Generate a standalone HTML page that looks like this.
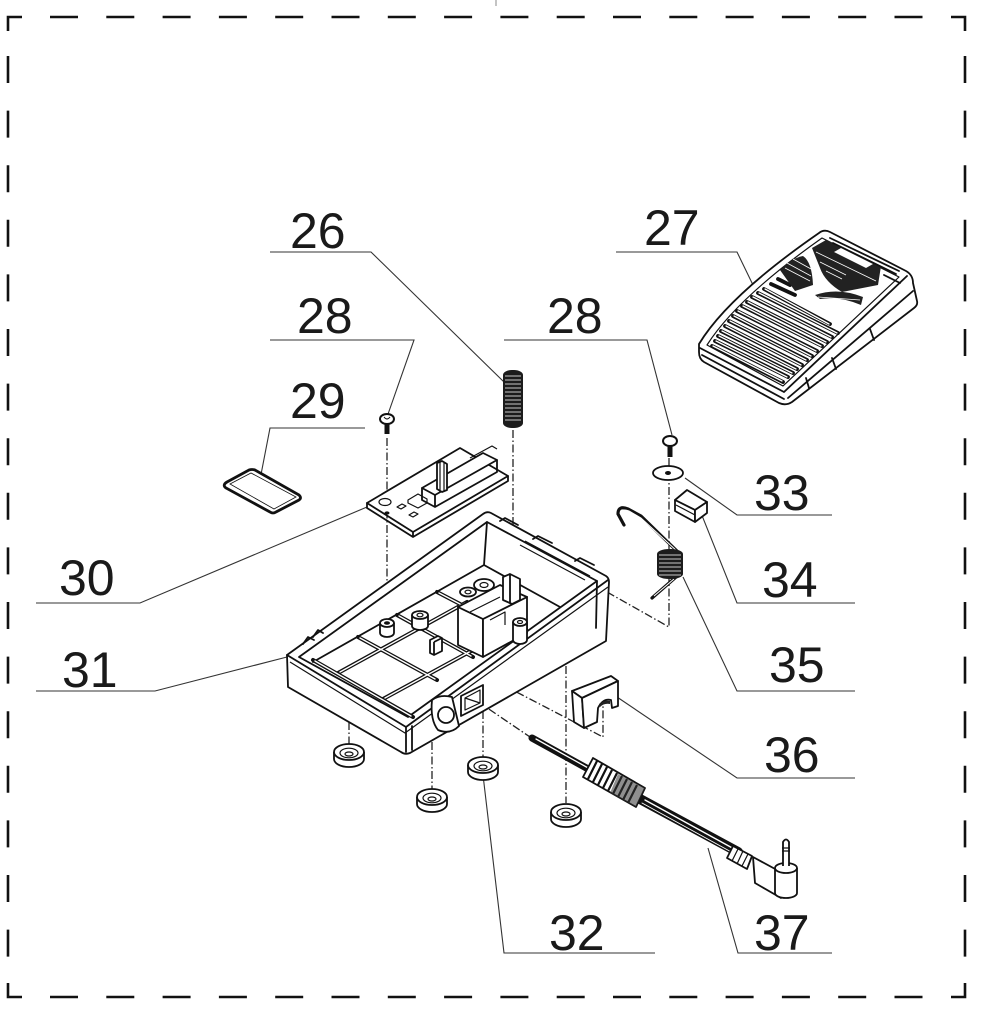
<!DOCTYPE html>
<html><head><meta charset="utf-8">
<style>
html,body{margin:0;padding:0;background:#fff;}
svg{display:block;}
text{font-family:"Liberation Sans",sans-serif;font-size:50px;fill:#1a1a1a;}
.b{fill:none;stroke:#111;stroke-width:2.6;}
.ld{fill:none;stroke:#333;stroke-width:1.1;}
.dd{fill:none;stroke:#222;stroke-width:1.3;stroke-dasharray:8 2.5 1.5 2.5;}
.o{fill:none;stroke:#111;stroke-width:1.8;stroke-linejoin:round;stroke-linecap:round;}
.t{fill:none;stroke:#111;stroke-width:1.2;stroke-linejoin:round;}
.w{fill:#fff;stroke:#111;stroke-width:1.8;stroke-linejoin:round;}
</style></head>
<body>
<svg width="984" height="1014" viewBox="0 0 984 1014" xmlns="http://www.w3.org/2000/svg">
<rect width="984" height="1014" fill="#fff"/>
<line x1="496" y1="0" x2="496" y2="6" stroke="#888" stroke-width="1"/>

<!-- Border -->
<path class="b" d="M8,31 L8,17 L22,17 M951,17 L965,17 L965,31 M8,983 L8,997 L22,997 M951,997 L965,997 L965,983"/>
<path class="b" d="M50,17h28 M106.3,17h28 M162.6,17h28 M218.9,17h28 M275.2,17h28 M331.5,17h28 M387.8,17h28 M444.1,17h28 M500.4,17h28 M556.7,17h28 M613,17h28 M669.3,17h28 M725.6,17h28 M781.9,17h28 M838.2,17h28 M894.5,17h28
M50,997h28 M106.3,997h28 M162.6,997h28 M218.9,997h28 M275.2,997h28 M331.5,997h28 M387.8,997h28 M444.1,997h28 M500.4,997h28 M556.7,997h28 M613,997h28 M669.3,997h28 M725.6,997h28 M781.9,997h28 M838.2,997h28 M894.5,997h28"/>
<path class="b" d="M8,56v27 M8,110.6v27 M8,165.2v27 M8,219.8v27 M8,274.4v27 M8,329v27 M8,383.6v27 M8,438.2v27 M8,492.8v27 M8,547.4v27 M8,602v27 M8,656.6v27 M8,711.2v27 M8,765.8v27 M8,820.4v27 M8,875v27 M8,929.6v27
M965,56v27 M965,110.6v27 M965,165.2v27 M965,219.8v27 M965,274.4v27 M965,329v27 M965,383.6v27 M965,438.2v27 M965,492.8v27 M965,547.4v27 M965,602v27 M965,656.6v27 M965,711.2v27 M965,765.8v27 M965,820.4v27 M965,875v27 M965,929.6v27"/>

<!-- Labels -->
<text x="290" y="248">26</text>
<text x="297" y="333">28</text>
<text x="290" y="418">29</text>
<text x="547" y="333">28</text>
<text x="644" y="245">27</text>
<text x="754" y="510">33</text>
<text x="762" y="597">34</text>
<text x="769" y="682">35</text>
<text x="764" y="772">36</text>
<text x="754" y="950">37</text>
<text x="549" y="950">32</text>
<text x="59" y="595">30</text>
<text x="62" y="687">31</text>

<!-- Leader lines -->
<path class="ld" d="M270,252H371L504,382 M270,340H414L387,417 M365,428H270L258,490 M504,340H647L672,435 M616,252H737L753,285 M832,515H737L685,478 M855,603H737L697,503 M855,691H737L683,577 M855,778H737L617,697 M832,953H738L708,848 M655,953H504L483,775 M36,603H140L367,507 M36,691H155L287,657"/>

<!-- Dash-dot center lines -->
<path class="dd" d="M387,438V622 M513,430V590 M669,458V627L607,592 M349,722V744 M432,742V789 M483,711V757 M566,666V803 M477,701L530,737 M478,672L603,737V698"/>

<!-- ===== Pedal cover 27 ===== -->
<g>
<path class="w" stroke-width="2" d="M699,344 Q728,296 819,233 Q824,229 830,232 L906,271 Q913,275 913,283 L917,301 Q918,305 914,308 L792,402 Q786,406 779,403 L704,362 Q699,359 699,352 Z"/>
<path class="o" d="M907,276 L784,392 M700,348 L784,392 M913,291 L788,398 M702,355 L784,399"/>
<path class="t" d="M707,345 Q737,298 822,238 L899,277 L783,386 Z"/>
<path class="o" d="M832,358 L836,369 M806,378 L809,388 M870,329 L874,340"/>
<!-- slots -->
<g stroke-linecap="round">
<g stroke="#111" stroke-width="3.8" fill="none">
<path d="M712,346L783,382 M715,341L788,377 M718,336L793,373 M721,331L797,369 M725,326L802,365 M729,321L807,360 M733,316L812,356 M737,311L817,351 M742,306L822,346 M747,302L827,342 M752,297L832,337 M758,293L838,333 M764,289L830,324 M771,284L795,295 M778,279L790,285"/>
</g>
<g stroke="#fff" stroke-width="1.3" fill="none">
<path d="M713,346L782,381 M716,341L787,377 M719,336L792,373 M722,331L796,369 M726,326L801,365 M730,321L806,360 M734,316L811,356 M738,311L816,351 M743,306L821,346 M748,302L826,342 M753,297L831,337 M759,293L837,333 M765,289L829,324"/>
</g>
</g>
<!-- dark V areas -->
<path fill="#222" d="M780,270 Q792,258 803,256 Q812,262 813,285 L795,291 Z"/>
<path fill="#222" d="M812,248 L826,240 L881,266 L878,285 L842,292 Q825,282 820,268 Z"/>
<path fill="#fff" d="M834,252 L841,248 L873,264 L866,268 Z"/>
<path fill="#222" d="M815,295 Q838,287 863,297 L861,305 Q840,296 820,299 Z"/>
<g stroke="#fff" stroke-width="0.8">
<path d="M785,268L810,281 M787,263L811,276 M793,259L811,269 M816,252L876,281 M820,262L846,275 M826,271L842,279 M818,297L860,300"/>
</g>
<path class="o" stroke-width="1.6" d="M830,238 L899,271 M833,243 L896,274 M884,275 L900,283"/>
</g>

<!-- ===== Spring 26 ===== -->
<rect x="503" y="370" width="20" height="58" rx="9" ry="5" fill="#1c1c1c"/>
<g stroke="#fff" stroke-width="0.7">
<path d="M505,376H521 M505,380H521 M505,384H521 M505,388H521 M505,392H521 M505,396H521 M505,400H521 M505,404H521 M505,408H521 M505,412H521 M505,416H521 M505,420H521"/>
</g>

<!-- ===== Screws 28 ===== -->
<ellipse cx="387" cy="419" rx="7" ry="5" fill="#fff" stroke="#111" stroke-width="2"/>
<path d="M384,417 Q387,421 390,417" stroke="#111" fill="none" stroke-width="1"/>
<rect x="384.5" y="423" width="5" height="11" fill="#111"/>
<ellipse cx="670" cy="441" rx="7" ry="5" fill="#fff" stroke="#111" stroke-width="2"/>
<rect x="667.5" y="445" width="5" height="12" fill="#111"/>

<!-- ===== Gasket 29 ===== -->
<path fill="#fff" stroke="#111" stroke-width="2.8" d="M227,482 L249,470 Q252,469 255,470 L299,495 Q302,498 299,500 L276,512 Q273,514 270,512 L226,488 Q222,485 227,482 Z"/>
<path fill="none" stroke="#111" stroke-width="0.8" d="M230,484 L251,473 L296,497 L274,509 Z"/>

<!-- ===== PCB 30 ===== -->
<path class="w" d="M367,503 L460,448 L508,476 L413,532 Z"/>
<path class="o" d="M367,503 L367,508 L413,537 L508,481 L508,476 M413,532 L413,537"/>
<ellipse cx="385" cy="502" rx="6" ry="3.5" class="t"/>
<ellipse cx="387" cy="513" rx="2.5" ry="1.6" fill="#111"/>
<path class="t" d="M397,507 L402,504 L406,506 L401,509 Z M409,515 L414,512 L418,514 L413,517 Z M408,500 L418,494 L427,499 L427,503 L418,508 L408,503 Z"/>
<path class="w" d="M422,488 L483,453 L497,460 L435,495 Z"/>
<path class="o" d="M422,488 L422,500 L435,507 L497,472 L497,460 M435,495 L435,507"/>
<path class="w" stroke-width="1.4" d="M437,463 L442,461 L447,464 L447,490 L442,492 L437,489 Z"/>
<path class="t" d="M440,462 L440,490 M444,463 L444,491 M470,458 L492,446 L497,449"/>

<!-- ===== Base housing 31 ===== -->
<g>
<path class="w" stroke-width="2.2" d="M287,655 L483,514 Q487,511 491,513 L606,576 Q609,578 609,582 L606,641 L410,753 Q405,755 401,752 L288,687 Z"/>
<!-- rim top -->
<path class="o" d="M287,655 L406,727 L608,580"/>
<path class="t" d="M290,662 L405,733 L608,587"/>
<path class="o" d="M299,657 L487,522 L597,581 L408,717 Z"/>
<path class="o" d="M406,727 L406,752 M412,726 L412,750"/>
<!-- inner walls -->
<path class="o" d="M487,522 L484,565 L313,662 M484,565 L560,607 M597,581 L596,628"/>
<path class="t" d="M520,545 L585,580 M525,541 L590,576"/>
<!-- rim tabs -->
<path class="o" d="M303,644 L308,637 L314,640 M313,637 L318,630 L323,633 M500,521 L505,518 L518,525 M533,539 L538,536 L552,543 M575,561 L580,558 L594,565"/>
<!-- floor ribs -->
<g stroke-linecap="round" fill="none">
<path stroke="#111" stroke-width="4" d="M313,660 L413,717 M338,673 L467,602 M383,699 L473,650 M358,637 L437,680 M397,615 L473,657 M437,592 L462,605"/>
<path stroke="#fff" stroke-width="1.4" d="M315,661 L411,716 M340,672 L465,603 M385,698 L471,651 M360,638 L435,679 M399,616 L471,656 M439,593 L460,604"/>
</g>
<!-- bosses -->
<path class="w" stroke-width="1.6" d="M380,623 L380,633 A7,4 0 0 0 394,633 L394,623"/>
<ellipse cx="387" cy="623" rx="7" ry="4" class="w" stroke-width="1.6"/>
<ellipse cx="387" cy="623" rx="3" ry="1.8" fill="#111"/>
<path class="w" stroke-width="1.6" d="M412,615 L412,626 A8,4 0 0 0 428,626 L428,615"/>
<ellipse cx="420" cy="615" rx="8" ry="4" class="w" stroke-width="1.6"/>
<ellipse cx="420" cy="615" rx="3" ry="1.8" class="t"/>
<path class="w" stroke-width="1.5" d="M430,640 L438,636 L442,638 L442,651 L434,655 L430,653 Z M434,642 L434,655 M434,642 L442,638"/>
<!-- switch block -->
<path class="w" d="M458,607 L483,619 L483,657 L458,645 Z"/>
<path class="w" d="M483,619 L527,597 L527,633 L483,657 Z"/>
<path class="w" d="M458,607 L500,585 L527,597 L483,619 Z"/>
<ellipse cx="468" cy="592" rx="8" ry="4.5" class="w" stroke-width="1.6"/>
<ellipse cx="468" cy="592" rx="3" ry="1.8" class="t"/>
<ellipse cx="484" cy="585" rx="10" ry="6" class="w" stroke-width="1.6"/>
<ellipse cx="484" cy="585" rx="4" ry="2.5" class="t"/>
<path class="w" stroke-width="1.5" d="M503,577 L510,574 L520,579 L520,600 L512,604 L503,600 Z M510,574 L510,603"/>
<path class="t" d="M470,612 L500,597 M490,620 L505,612 L505,625"/>
<path class="w" stroke-width="1.6" d="M513,622 L513,640 A7,4 0 0 0 527,640 L527,622"/>
<ellipse cx="520" cy="622" rx="7" ry="4" class="w" stroke-width="1.6"/>
<ellipse cx="520" cy="622" rx="2.5" ry="1.5" class="t"/>
<!-- socket & opening -->
<path class="w" d="M432,700 Q440,694 452,697 L459,726 Q450,735 438,730 Q430,720 432,700 Z"/>
<circle cx="446" cy="715" r="8" class="w" stroke-width="1.6"/>
<path class="w" d="M461,696 L483,685 L483,705 L461,716 Z"/>
<path class="t" d="M465,698 L480,690 L480,703 L465,710 Z M465,698 L480,703"/>
</g>

<!-- ===== Washer 33 ===== -->
<ellipse cx="668" cy="473" rx="15" ry="7" class="w" stroke-width="2"/>
<ellipse cx="668" cy="473" rx="3" ry="2" fill="#111"/>

<!-- ===== Block 34 ===== -->
<path class="w" d="M675,500 L687,490 L707,502 L695,510 Z"/>
<path class="w" d="M675,500 L695,510 L695,522 L675,511 Z"/>
<path class="w" d="M695,510 L707,502 L707,513 L695,522 Z"/>
<path class="t" d="M676,505 L695,515"/>

<!-- ===== Torsion spring 35 ===== -->
<path fill="none" stroke="#111" stroke-width="3.2" stroke-linecap="round" d="M680,554 L641,516 L628,509 Q618,505 618,514 L624,525 M676,577 L652,598"/>
<path fill="none" stroke="#fff" stroke-width="1" d="M678,552 L641,518 L629,511 Q621,508 621,514 L625,522 M674,579 L654,596"/>
<rect x="657" y="549" width="26" height="30" rx="12" ry="5" fill="#1c1c1c"/>
<g stroke="#fff" stroke-width="0.7"><path d="M659,555H681 M659,559H681 M659,563H681 M659,567H681 M659,571H681 M659,575H681"/></g>

<!-- ===== Clip 36 ===== -->
<path class="w" d="M572,691 L611,676 L618,681 L582,698 Z"/>
<path class="w" d="M572,691 L582,698 L584,728 L574,722 Z"/>
<path class="w" d="M582,698 L618,681 L618,706 L612,708 L611,700 Q603,698 598,708 L597,722 L584,728 Z"/>
<path fill="#222" d="M599,704 Q604,700 610,701 L610,704 Q604,703 600,707 Z"/>

<!-- ===== Feet 32 ===== -->
<g>
<path class="w" d="M334,752 L334,759 A15,8 0 0 0 364,759 L364,752"/>
<ellipse cx="349" cy="752" rx="15" ry="8" class="w"/>
<ellipse cx="349" cy="753" rx="9" ry="4.8" class="t"/>
<ellipse cx="349" cy="754" rx="4" ry="2" class="t"/>
<path class="w" d="M417,797 L417,804 A15,8 0 0 0 447,804 L447,797"/>
<ellipse cx="432" cy="797" rx="15" ry="8" class="w"/>
<ellipse cx="432" cy="798" rx="9" ry="4.8" class="t"/>
<ellipse cx="432" cy="799" rx="4" ry="2" class="t"/>
<path class="w" d="M468,765 L468,772 A15,8 0 0 0 498,772 L498,765"/>
<ellipse cx="483" cy="765" rx="15" ry="8" class="w"/>
<ellipse cx="483" cy="766" rx="9" ry="4.8" class="t"/>
<ellipse cx="483" cy="767" rx="4" ry="2" class="t"/>
<path class="w" d="M551,812 L551,819 A15,8 0 0 0 581,819 L581,812"/>
<ellipse cx="566" cy="812" rx="15" ry="8" class="w"/>
<ellipse cx="566" cy="813" rx="9" ry="4.8" class="t"/>
<ellipse cx="566" cy="814" rx="4" ry="2" class="t"/>
</g>

<!-- ===== Cable 37 ===== -->
<g stroke-linecap="round">
<path stroke="#111" stroke-width="7" fill="none" d="M532,738 L590,770"/>
<path stroke="#fff" stroke-width="1.3" fill="none" d="M536,739 L590,769"/>
<path stroke="#111" stroke-width="10" fill="none" d="M640,799 L738,852"/>
<path stroke="#fff" stroke-width="1.4" fill="none" d="M645,800 L736,850"/>
<path stroke="#fff" stroke-width="0.9" fill="none" d="M642,803 L735,854"/>
</g>
<path class="w" d="M593,758 L645,788 L636,807 L583,777 Z"/>
<g stroke="#111" stroke-width="2.2">
<path d="M597,761 L588,779 M602,764 L593,782 M607,767 L598,785 M612,770 L603,788 M617,773 L608,791 M622,776 L613,794 M627,779 L618,797 M632,782 L623,800 M637,785 L628,803"/>
</g>
<path fill="#333" d="M618,774 L645,788 L636,807 L610,793 Z" opacity="0.55"/>
<path class="w" stroke-width="1.6" d="M733,846 L752,856 L747,869 L727,858 Z"/>
<path class="t" d="M738,849 L732,861 M743,851 L737,864 M748,854 L742,866"/>
<path class="w" d="M753,857 L777,870 L781,898 L755,883 Z"/>
<path class="w" d="M775,868 L775,893 A11,5 0 0 0 797,893 L797,868"/>
<ellipse cx="786" cy="868" rx="11" ry="5" class="w"/>
<path class="w" stroke-width="1.5" d="M783,866 L783,842 Q786,837 789,842 L789,866"/>
<path class="t" d="M782,848 L790,848 M782,851 L790,851"/>
</svg>
</body></html>
